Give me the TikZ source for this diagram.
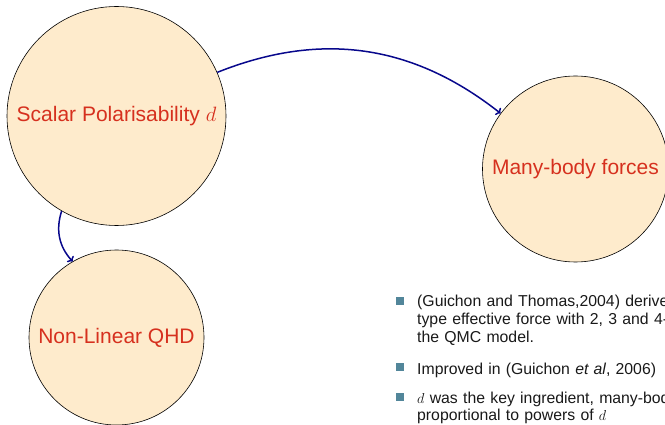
\documentclass[tikz,border=0pt]{standalone}
\usepackage{fontspec}
\setmainfont{Liberation Sans}
\usetikzlibrary{arrows.meta}
\definecolor{bubblefill}{RGB}{254,235,204}
\definecolor{bubbletext}{RGB}{214,48,30}
\definecolor{linkblue}{RGB}{8,8,140}
\definecolor{bulletcol}{RGB}{82,134,154}
\definecolor{itemcol}{RGB}{25,25,25}
\tikzset{
  bubble/.style={circle, draw=black, line width=0.6pt, fill=bubblefill, text=bubbletext,
    font=\fontsize{21}{25}\selectfont, inner sep=0pt},
  link/.style={-{To[length=4pt,width=9pt]}, line width=1.5pt, draw=linkblue},
  bulletsq/.style={fill=bulletcol, minimum size=8pt, inner sep=0pt},
  itemtext/.style={anchor=base west, align=left, text width=420pt, inner sep=0pt,
    font=\fontsize{15.8}{17.6}\selectfont, text=itemcol}
}
\begin{document}
\begin{tikzpicture}[x=1pt,y=-1pt]
\useasboundingbox (0,0) rectangle (665,425);
\clip (0,0) rectangle (665,425);
\node[bubble, minimum size=219pt] (sp) at (116.5,116) {Scalar Polarisability $d$};
\node[bubble, minimum size=186pt] (mb) at (575.5,169) {Many-body forces};
\node[bubble, minimum size=175pt] (nl) at (116.5,337.5) {Non-Linear QHD};
\draw[link] (sp) to[bend left=30] (mb);
\draw[link] (sp) to[bend right=30] (nl);
\node[bulletsq] (b1) at (400,301) {};
\node[bulletsq] (b2) at (400,367) {};
\node[bulletsq] (b3) at (400,397) {};
\node[itemtext] (t1) at (417,307) {(Guichon and Thomas,2004) derive\\type effective force with 2, 3 and 4-b\\the QMC model.};
\node[itemtext] (t2) at (417,374) {Improved in (Guichon \textit{et al}, 2006)};
\node[itemtext] (t3) at (417,403) {$d$ was the key ingredient, many-bod\\proportional to powers of $d$};
\end{tikzpicture}
\end{document}
